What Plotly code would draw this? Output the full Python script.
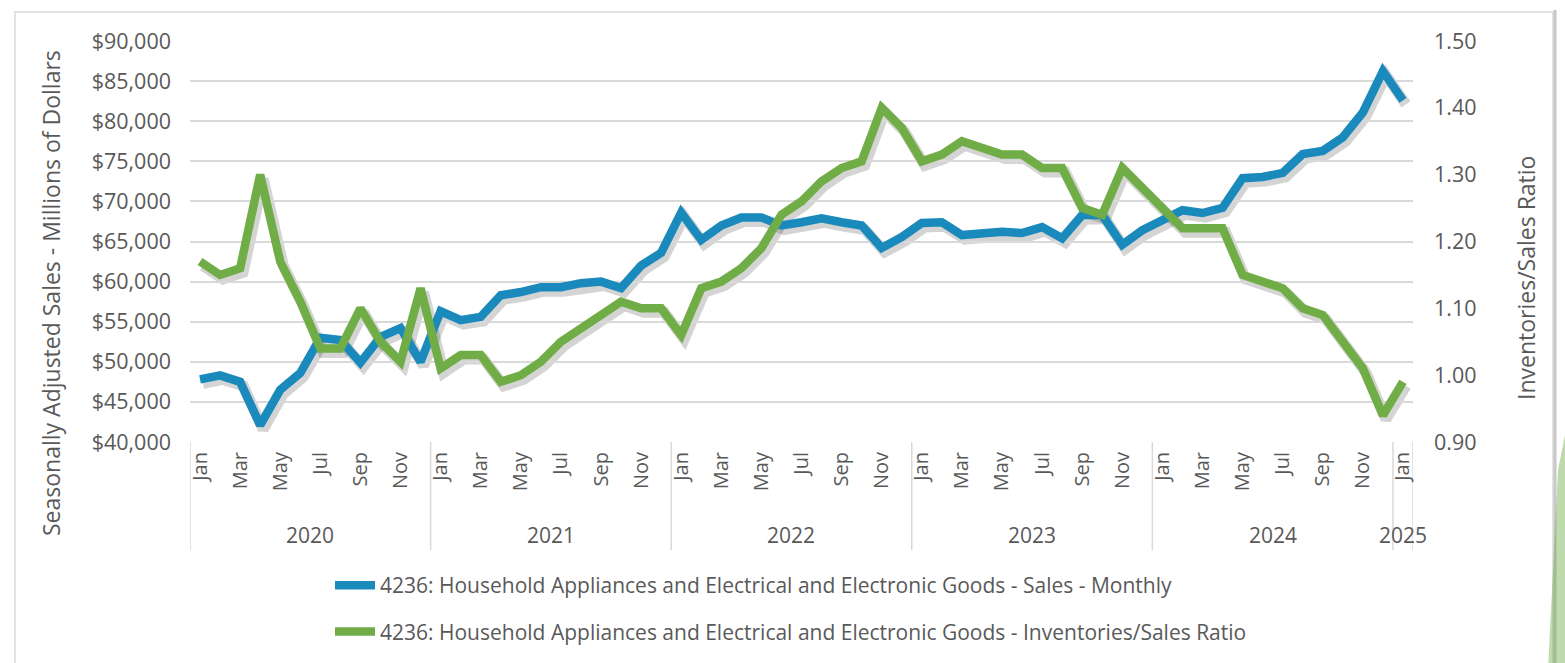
import plotly.graph_objects as go

# ---------------- data ----------------
month_names = ["Jan", "Feb", "Mar", "Apr", "May", "Jun", "Jul", "Aug", "Sep", "Oct", "Nov", "Dec"]
years = [2020, 2021, 2022, 2023, 2024, 2025]

sales = [
    47800, 48300, 47500, 42100, 46500, 48600, 53000, 52700, 49900, 53100, 54200, 50000,   # 2020
    56300, 55200, 55600, 58300, 58700, 59300, 59300, 59800, 60000, 59200, 62000, 63600,   # 2021
    68600, 65200, 67000, 68000, 68000, 67000, 67400, 67900, 67400, 67000, 64200, 65550,   # 2022
    67300, 67400, 65800, 66050, 66200, 66050, 66800, 65400, 68300, 68300, 64600, 66400,   # 2023
    67700, 68900, 68550, 69200, 72900, 73050, 73550, 75900, 76300, 78000, 81100, 86250,   # 2024
    82600,                                                                                # 2025
]
ratio = [
    1.17, 1.15, 1.16, 1.30, 1.17, 1.11, 1.04, 1.04, 1.10, 1.05, 1.02, 1.13,   # 2020
    1.01, 1.03, 1.03, 0.99, 1.00, 1.02, 1.05, 1.07, 1.09, 1.11, 1.10, 1.10,   # 2021
    1.06, 1.13, 1.14, 1.16, 1.19, 1.24, 1.26, 1.29, 1.31, 1.32, 1.40, 1.37,   # 2022
    1.32, 1.33, 1.35, 1.34, 1.33, 1.33, 1.31, 1.31, 1.25, 1.24, 1.31, 1.28,   # 2023
    1.25, 1.22, 1.22, 1.22, 1.15, 1.14, 1.13, 1.10, 1.09, 1.05, 1.01, 0.94,   # 2024
    0.99,                                                                     # 2025
]
series_names = [
    "4236: Household Appliances and Electrical and Electronic Goods - Sales - Monthly",
    "4236: Household Appliances and Electrical and Electronic Goods - Inventories/Sales Ratio",
]
left_title = "Seasonally Adjusted Sales - Millions of Dollars"
right_title = "Inventories/Sales Ratio"

# ---------------- derived categories ----------------
n = len(sales)
xs = list(range(n))
period_year = [years[i // 12] for i in xs]
period_month = [month_names[i % 12] for i in xs]
tick_idx = xs[::2]
tick_txt = [period_month[i] for i in tick_idx]

BLUE = "#1a89bb"
GREEN = "#70ad47"
GRID = "#d9d9d9"
TXT = "#595959"
FONT = "Open Sans"

# pixel geometry helpers
W, H = 1565, 663
ML, MR, MT, MB = 190, 149, 41, 217
PW, PH = W - ML - MR, H - MT - MB
SX, SY = 3, 4  # shadow offset in px
dx, dy = SX / PW, SY / PH

fig = go.Figure()

# shadows (drawn in first subplot, shifted domain)
fig.add_trace(go.Scatter(x=xs, y=sales, mode="lines", xaxis="x", yaxis="y",
                         line=dict(color="rgba(60,60,60,0.22)", width=11),
                         showlegend=False, hoverinfo="skip"))
fig.add_trace(go.Scatter(x=xs, y=ratio, mode="lines", xaxis="x", yaxis="y2",
                         line=dict(color="rgba(60,60,60,0.22)", width=11),
                         showlegend=False, hoverinfo="skip"))

# main series
fig.add_trace(go.Scatter(x=xs, y=sales, mode="lines", xaxis="x2", yaxis="y3",
                         name=series_names[0], legendgroup="a",
                         line=dict(color=BLUE, width=8.5),
                         customdata=[f"{m} {y}" for m, y in zip(period_month, period_year)]))
fig.add_trace(go.Scatter(x=xs, y=ratio, mode="lines", xaxis="x2", yaxis="y4",
                         name=series_names[1], legendgroup="b",
                         line=dict(color=GREEN, width=8.5),
                         customdata=[f"{m} {y}" for m, y in zip(period_month, period_year)]))

xr = [-0.5, n - 0.5]
yl = [40000, 90000]
yr = [0.9, 1.5]

hidden = dict(visible=False, showgrid=False, zeroline=False, fixedrange=True)

shapes = []
annotations = []

# year dividers and labels
bounds = [-0.5] + [12 * k - 0.5 for k in range(1, len(years))] + [n - 0.5]
for b in bounds:
    shapes.append(dict(type="line", xref="x2", yref="y3 domain", x0=b, x1=b, y0=0, y1=-0.27,
                       line=dict(color=GRID, width=1.5), layer="below"))
for k, yv in enumerate(years):
    idx = [i for i in xs if period_year[i] == yv]
    annotations.append(dict(xref="x2", yref="y3 domain", x=sum(idx) / len(idx), y=-0.232,
                            text=str(yv), showarrow=False, xanchor="center", yanchor="middle",
                            font=dict(family=FONT, size=21, color=TXT)))

# axis titles
annotations.append(dict(xref="x2 domain", yref="y3 domain", x=(51 - ML) / (PW - SX), y=(442 - 293) / (PH - SY),
                        text=left_title, textangle=-90, showarrow=False, xanchor="center", yanchor="middle",
                        font=dict(family=FONT, size=23, color=TXT)))
annotations.append(dict(xref="x2 domain", yref="y3 domain", x=(1526 - ML) / (PW - SX), y=(442 - 278) / (PH - SY),
                        text=right_title, textangle=-90, showarrow=False, xanchor="center", yanchor="middle",
                        font=dict(family=FONT, size=23, color=TXT)))

# outer frame
def px(xp):
    return (xp - ML) / PW

def py(yp):
    return (MT + PH - yp) / PH

shapes.append(dict(type="rect", xref="paper", yref="paper", x0=px(15), x1=px(1553), y0=py(12), y1=py(720),
                   line=dict(color=GRID, width=1.5), layer="below"))
shapes.append(dict(type="line", xref="paper", yref="paper", x0=px(1555), x1=px(1555), y0=py(10), y1=py(720),
                   line=dict(color="#c8c8c8", width=3), layer="below"))
shapes.append(dict(type="path", xref="paper", yref="paper",
                   path=f"M{px(1558)},{py(470)} L{px(1566)},{py(430)} L{px(1566)},{py(670)} L{px(1548)},{py(670)} Z",
                   fillcolor="rgba(112,173,71,0.45)", line=dict(width=0), layer="below"))

fig.update_layout(
    width=W, height=H,
    margin=dict(l=ML, r=MR, t=MT, b=MB, autoexpand=False),
    paper_bgcolor="white", plot_bgcolor="rgba(0,0,0,0)",
    font=dict(family=FONT, color=TXT),
    xaxis=dict(domain=[dx, 1], range=xr, anchor="y", **hidden),
    yaxis=dict(domain=[0, 1 - dy], range=yl, anchor="x", **hidden),
    yaxis2=dict(range=yr, overlaying="y", anchor="x", **hidden),
    xaxis2=dict(domain=[0, 1 - dx], range=xr, anchor="y3", showgrid=False, zeroline=False,
                tickmode="array", tickvals=tick_idx, ticktext=tick_txt, tickangle=-90,
                tickfont=dict(family=FONT, size=20, color=TXT), ticks="", showline=False,
                ticklabelstandoff=5, fixedrange=True),
    yaxis3=dict(domain=[dy, 1], range=yl, anchor="x2", dtick=5000, tickprefix="$", tickformat=",",
                showgrid=True, gridcolor=GRID, gridwidth=2, zeroline=False, showline=False,
                tickfont=dict(family=FONT, size=21.5, color=TXT), ticks="", ticklabelstandoff=18,
                fixedrange=True),
    yaxis4=dict(range=yr, overlaying="y3", anchor="x2", side="right", dtick=0.1, tickformat=".2f",
                showgrid=False, zeroline=False, showline=False,
                tickfont=dict(family=FONT, size=21.5, color=TXT), ticks="", ticklabelstandoff=20,
                fixedrange=True),
    legend=dict(x=px(330), y=py(565), xanchor="left", yanchor="top", orientation="v",
                traceorder="grouped", tracegroupgap=16, bgcolor="rgba(0,0,0,0)",
                font=dict(family=FONT, size=21, color=TXT), itemwidth=40),
    shapes=shapes,
    annotations=annotations,
    hovermode="x unified",
)

fig.write_html("out.html")
